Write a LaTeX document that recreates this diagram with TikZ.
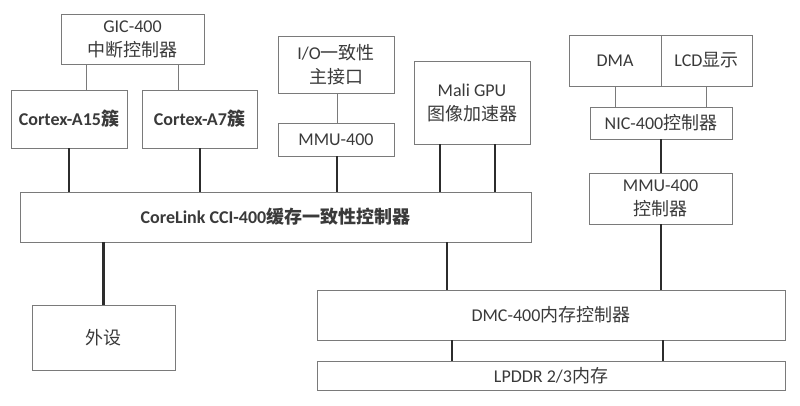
\documentclass[tikz,border=0pt]{standalone}
\usepackage{fontspec}
\setmainfont{Carlito}
\newfontfamily\cjk{Noto Sans CJK SC}
\definecolor{txt}{HTML}{3A3A3A}
\definecolor{edge}{HTML}{7A7A7A}
\definecolor{thick}{HTML}{2C2C2C}
\begin{document}
\begin{tikzpicture}[x=1pt,y=-1pt,
  box/.style={draw=edge,line width=0.9pt,inner sep=0pt,align=center,text=txt,
    font=\fontsize{18}{24}\selectfont},
  boldbox/.style={box,font=\fontsize{18}{24}\selectfont\bfseries},
  thin/.style={draw=edge,line width=0.9pt},
  bus/.style={draw=thick,line width=2.6pt}]
\useasboundingbox (0,0) rectangle (800,406);
\fill[white] (0,0) rectangle (800,406);
% boxes
\node[box,minimum width=143pt,minimum height=50pt] (gic) at (132.5,39) {GIC-400\\{\cjk 中断控制器}};
\node[boldbox,minimum width=116pt,minimum height=58pt] (a15) at (69,119) {Cortex-A15{\cjk 簇}};
\node[boldbox,minimum width=115pt,minimum height=58pt] (a7) at (199.5,119) {Cortex-A7{\cjk 簇}};
\node[box,minimum width=116pt,minimum height=57pt] (io) at (336,64.5) {I/O{\cjk 一致性}\\{\cjk 主接口}};
\node[box,minimum width=116pt,minimum height=33pt] (mmua) at (336,139.5) {MMU-400};
\node[box,minimum width=116pt,minimum height=83pt] (mali) at (472,102.5) {Mali GPU\\{\cjk 图像加速器}};
\node[box,minimum width=92pt,minimum height=51pt] (dma) at (615,60.5) {DMA};
\node[box,minimum width=91pt,minimum height=51pt] (lcd) at (706.5,60.5) {LCD{\cjk 显示}};
\node[box,minimum width=142pt,minimum height=32pt] (nic) at (661,123) {NIC-400{\cjk 控制器}};
\node[box,minimum width=143pt,minimum height=51pt] (mmub) at (660.5,198.5) {MMU-400\\{\cjk 控制器}};
\node[boldbox,minimum width=511pt,minimum height=50pt] (cci) at (275.5,217) {CoreLink CCI-400{\cjk 缓存一致性控制器}};
\node[box,minimum width=143pt,minimum height=65pt] (per) at (103.5,337.5) {{\cjk 外设}};
\node[box,minimum width=468pt,minimum height=50pt] (dmc) at (551,315) {DMC-400{\cjk 内存控制器}};
\node[box,minimum width=468pt,minimum height=29pt] (lp) at (551,375.5) {LPDDR 2/3{\cjk 内存}};
% thin connectors
\draw[thin] ([xshift=-46.5pt]gic.south) -- ([xshift=-46.5pt]gic.south |- a15.north);
\draw[thin] ([xshift=45.5pt]gic.south) -- ([xshift=45.5pt]gic.south |- a7.north);
\draw[thin] ([xshift=1pt]io.south) -- ([xshift=1pt]io.south |- mmua.north);
\draw[thin] (dma.south) -- (dma.south |- nic.north);
\draw[thin] ([xshift=-0.5pt]lcd.south) -- ([xshift=-0.5pt]lcd.south |- nic.north);
% thick connectors
\draw[bus] (a15.south) -- (a15.south |- cci.north);
\draw[bus] ([xshift=0.5pt]a7.south) -- ([xshift=0.5pt]a7.south |- cci.north);
\draw[bus] ([xshift=1pt]mmua.south) -- ([xshift=1pt]mmua.south |- cci.north);
\draw[bus] ([xshift=-32pt]mali.south) -- ([xshift=-32pt]mali.south |- cci.north);
\draw[bus] ([xshift=23pt]mali.south) -- ([xshift=23pt]mali.south |- cci.north);
\draw[bus] (nic.south) -- (nic.south |- mmub.north);
\draw[bus] (per.north) -- (per.north |- cci.south);
\draw[bus] ([xshift=-104pt]dmc.north) -- ([xshift=-104pt]dmc.north |- cci.south);
\draw[bus] ([xshift=0.5pt]mmub.south) -- ([xshift=0.5pt]mmub.south |- dmc.north);
\draw[bus] ([xshift=-99pt]dmc.south) -- ([xshift=-99pt]dmc.south |- lp.north);
\draw[bus] ([xshift=112pt]dmc.south) -- ([xshift=112pt]dmc.south |- lp.north);
\end{tikzpicture}
\end{document}
